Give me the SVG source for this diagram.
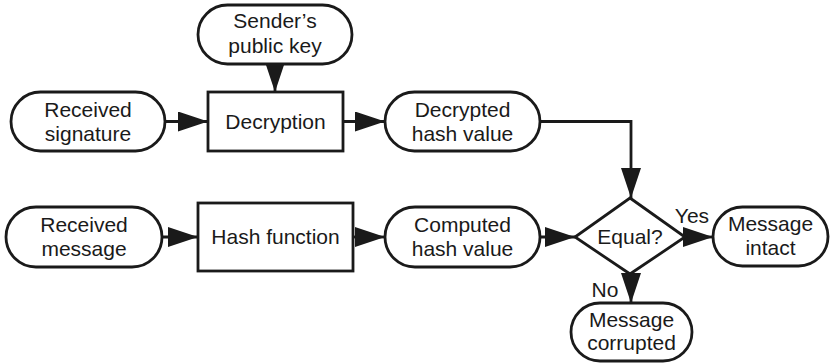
<svg xmlns="http://www.w3.org/2000/svg" width="830" height="363" viewBox="0 0 830 363">
<defs>
<style>
.s{fill:#fff;stroke:#1a1a1a;stroke-width:2.8}
.t{font-family:"Liberation Sans",Arial,sans-serif;font-size:21px;fill:#1a1a1a;text-anchor:middle}
.c{fill:none;stroke:#1a1a1a;stroke-width:2.8}
</style>
<marker id="ah" markerUnits="userSpaceOnUse" markerWidth="32" markerHeight="22" refX="30" refY="10" orient="auto">
<path d="M0,0 L30,10 L0,20 Z" fill="#1a1a1a"/>
</marker>
</defs>
<rect width="830" height="363" fill="#fff"/>
<g id="connectors">
<line class="c" x1="275" y1="64" x2="275" y2="92" marker-end="url(#ah)"/>
<line class="c" x1="165" y1="121.5" x2="208" y2="121.5" marker-end="url(#ah)"/>
<line class="c" x1="343" y1="121.5" x2="385" y2="121.5" marker-end="url(#ah)"/>
<polyline class="c" points="540,121.5 631,121.5 631,198" marker-end="url(#ah)"/>
<line class="c" x1="162" y1="237" x2="198" y2="237" marker-end="url(#ah)"/>
<line class="c" x1="353" y1="237" x2="385" y2="237" marker-end="url(#ah)"/>
<line class="c" x1="540" y1="237" x2="575" y2="237" marker-end="url(#ah)"/>
<line class="c" x1="685" y1="237" x2="713" y2="237" marker-end="url(#ah)"/>
<line class="c" x1="631" y1="274" x2="631" y2="303" marker-end="url(#ah)"/>
<text class="t" x="692" y="223">Yes</text>
<text class="t" x="605" y="297">No</text>
</g>
<g id="sender-key">
<rect class="s" x="198" y="5" width="154" height="59" rx="29.5"/>
<text class="t" x="275" y="28">Sender’s</text>
<text class="t" x="275" y="53">public key</text>
</g>
<g id="received-signature">
<rect class="s" x="11" y="92" width="154" height="59" rx="29.5"/>
<text class="t" x="88" y="117">Received</text>
<text class="t" x="88" y="141">signature</text>
</g>
<g id="decryption">
<rect class="s" x="208" y="92" width="135" height="59"/>
<text class="t" x="275.5" y="129">Decryption</text>
</g>
<g id="decrypted-hash">
<rect class="s" x="385" y="92" width="155" height="59" rx="29.5"/>
<text class="t" x="462.5" y="117">Decrypted</text>
<text class="t" x="462.5" y="141">hash value</text>
</g>
<g id="received-message">
<rect class="s" x="6" y="207" width="156" height="60" rx="30"/>
<text class="t" x="84" y="232">Received</text>
<text class="t" x="84" y="256">message</text>
</g>
<g id="hash-function">
<rect class="s" x="198" y="203" width="155" height="68"/>
<text class="t" x="275.5" y="244">Hash function</text>
</g>
<g id="computed-hash">
<rect class="s" x="385" y="207" width="155" height="60" rx="30"/>
<text class="t" x="462.5" y="232">Computed</text>
<text class="t" x="462.5" y="256">hash value</text>
</g>
<g id="equal">
<polygon class="s" points="630,198 685,237 630,274 575,237"/>
<text class="t" x="630" y="244">Equal?</text>
</g>
<g id="message-intact">
<rect class="s" x="713" y="207" width="115" height="59" rx="29.5"/>
<text class="t" x="770.5" y="231">Message</text>
<text class="t" x="770.5" y="255">intact</text>
</g>
<g id="message-corrupted">
<rect class="s" x="571" y="303" width="121" height="58" rx="29"/>
<text class="t" x="631.5" y="327">Message</text>
<text class="t" x="631.5" y="350">corrupted</text>
</g>
</svg>
